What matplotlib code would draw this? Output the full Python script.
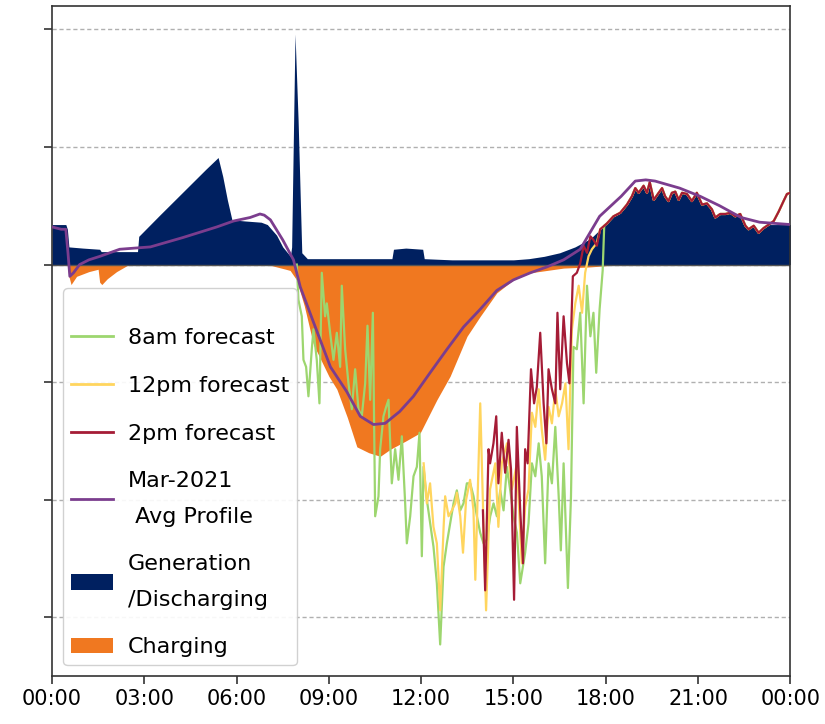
import matplotlib
matplotlib.use("Agg")
import matplotlib.pyplot as plt
from matplotlib import font_manager
from matplotlib.lines import Line2D
from matplotlib.patches import Patch

# hours of day -> value (arbitrary units, one grid step = 1)
gen_t = [0, 0.45, 0.5, 0.55, 1.0, 1.55, 1.6, 2.0, 2.5, 2.78, 2.82, 3.5, 4.0, 4.5, 5.0, 5.4, 5.55, 5.7, 5.85, 6.3,
         6.8, 7.0, 7.3, 7.5, 7.75, 7.79, 7.9, 8.0, 8.12, 8.3, 9.0, 10.0, 11.05, 11.1, 11.5, 12.05, 12.1, 13.0, 14.0, 15.0,
         15.5, 16.0, 16.5, 17.0, 17.5, 17.82,
         18.04, 18.25, 18.47, 18.69, 18.85, 18.96, 19.07, 19.23, 19.34, 19.43, 19.56, 19.72, 19.83, 19.93, 20.04, 20.15,
         20.26, 20.37, 20.48, 20.64, 20.8, 20.96, 21.13, 21.29, 21.45, 21.56, 21.72, 21.89, 22.05, 22.21, 22.37, 22.54,
         22.64, 22.81, 22.97, 23.13, 23.3, 23.5, 24.0]
gen_v = [0.34, 0.34, 0.3, 0.15, 0.14, 0.13, 0.11, 0.11, 0.11, 0.11, 0.24, 0.42, 0.55, 0.68, 0.81, 0.91, 0.75, 0.55, 0.38, 0.37,
         0.36, 0.34, 0.25, 0.15, 0.07, 0.15, 1.96, 1.23, 0.1, 0.05, 0.05, 0.05, 0.05, 0.13, 0.14, 0.13, 0.05, 0.04, 0.04, 0.04,
         0.05, 0.07, 0.1, 0.15, 0.22, 0.30,
         0.35, 0.41, 0.44, 0.51, 0.58, 0.65, 0.61, 0.67, 0.61, 0.70, 0.55, 0.61, 0.65, 0.58, 0.54, 0.61,
         0.62, 0.55, 0.61, 0.60, 0.54, 0.61, 0.51, 0.52, 0.47, 0.40, 0.43, 0.43, 0.44, 0.41, 0.43, 0.33,
         0.30, 0.33, 0.27, 0.31, 0.34, 0.34, 0.34]

chg_t = [0, 0.5, 0.55, 0.62, 0.8, 1.2, 1.5, 1.55, 1.62, 1.8, 2.1, 2.5, 7.0, 7.3, 7.6, 7.74, 7.95, 8.2, 8.5, 9.0,
         9.26, 9.6, 9.91, 10.3, 10.67, 11.0, 11.5, 11.97, 12.51, 12.94, 13.49, 13.92, 14.46, 15.0, 15.55, 16.63, 17.5,
         18.5, 24.0]
chg_v = [0, 0, -0.1, -0.17, -0.1, -0.06, -0.04, -0.15, -0.17, -0.12, -0.06, 0, 0, -0.02, -0.04, -0.05, -0.13, -0.35, -0.68,
         -0.95, -1.06, -1.3, -1.55, -1.6, -1.63, -1.57, -1.5, -1.43, -1.15, -0.95, -0.61, -0.44, -0.24, -0.13, -0.07,
         -0.03, -0.02, 0, 0]

avg_t = [0, 0.3, 0.45, 0.52, 0.58, 0.7, 0.9, 1.2, 1.56, 2.2, 3.2, 4.26, 5.36, 5.9, 6.44, 6.76, 6.9, 7.1, 7.5, 7.85,
         8.07, 8.5, 9.05, 9.58, 10.02, 10.45, 10.83, 11.3, 11.75, 12.29, 12.84, 13.38, 13.92, 14.46, 15.0, 15.55, 16.09,
         16.63, 17.17, 17.8, 18.5, 18.96, 19.3, 19.6, 20.4, 21.07, 21.7, 22.4, 23.0, 24.0]
avg_v = [0.32, 0.3, 0.3, 0.1, -0.1, -0.07, 0.0, 0.04, 0.07, 0.13, 0.15, 0.23, 0.32, 0.37, 0.40, 0.43, 0.42, 0.38, 0.21, 0.04,
         -0.19, -0.49, -0.87, -1.08, -1.29, -1.36, -1.35, -1.25, -1.12, -0.92, -0.72, -0.53, -0.38, -0.22, -0.13, -0.07,
         -0.02, 0.04, 0.13, 0.41, 0.58, 0.71, 0.72, 0.71, 0.65, 0.58, 0.5, 0.4, 0.36, 0.34]

# forecasts share the evening part
eve_t = [18.04, 18.25, 18.47, 18.69, 18.85, 18.96, 19.07, 19.23, 19.34, 19.43, 19.56, 19.72, 19.83, 19.93, 20.04, 20.15,
         20.26, 20.37, 20.48, 20.64, 20.8, 20.96, 21.13, 21.29, 21.45, 21.56, 21.72, 21.89, 22.05, 22.21, 22.37, 22.54,
         22.64, 22.81, 22.97, 23.13, 23.3, 23.46, 23.62, 23.78, 23.89, 24.0]
eve_v = [0.35, 0.41, 0.44, 0.51, 0.58, 0.65, 0.61, 0.67, 0.61, 0.70, 0.55, 0.61, 0.65, 0.58, 0.54, 0.61,
         0.62, 0.55, 0.61, 0.60, 0.54, 0.61, 0.51, 0.52, 0.47, 0.40, 0.43, 0.43, 0.44, 0.41, 0.43, 0.33,
         0.30, 0.33, 0.27, 0.31, 0.34, 0.37, 0.45, 0.54, 0.60, 0.61]

f8_t = [7.957, 8.011, 8.12, 8.174, 8.26, 8.336, 8.445, 8.499, 8.607, 8.694,
        8.77, 8.878, 8.933, 9.041, 9.15, 9.258, 9.366, 9.42, 9.529, 9.637,
        9.746, 9.854, 9.962, 10.07, 10.18, 10.255, 10.342, 10.43, 10.505, 10.613,
        10.667, 10.775, 10.862, 10.938, 11.046, 11.155, 11.263, 11.372, 11.48, 11.534,
        11.643, 11.751, 11.86, 11.946, 12.022, 12.076, 12.185, 12.293, 12.401, 12.51,
        12.618, 12.727, 12.835, 12.943, 13.052, 13.16, 13.269, 13.377, 13.485, 13.594,
        13.702, 13.811, 13.919, 14.027, 14.136, 14.244, 14.353, 14.461, 14.57, 14.678,
        14.786, 14.895, 15.003, 15.112, 15.22, 15.38, 15.49, 15.6, 15.71, 15.82,
        15.92, 16.03, 16.14, 16.25, 16.36, 16.47, 16.54, 16.63, 16.77, 16.87,
        16.95, 17.06, 17.17, 17.28, 17.39, 17.5, 17.6, 17.69, 17.8, 17.9, 17.95]
f8_v = [0.0, -0.30, -0.44, -0.81, -0.87, -1.12, -0.72, -0.55, -0.81, -1.18,
        -0.07, -0.44, -0.33, -0.58, -0.81, -0.58, -0.87, -0.18, -0.72, -1.01,
        -1.23, -0.89, -1.23, -1.29, -1.01, -0.52, -1.15, -0.41, -2.14, -1.97,
        -1.57, -1.29, -1.21, -1.15, -1.86, -1.57, -1.83, -1.46, -2.03, -2.37,
        -2.14, -1.80, -1.72, -1.43, -2.48, -1.72, -2.0, -2.2, -2.4, -2.71,
        -3.23, -2.57, -2.37, -2.2, -2.03, -1.92, -2.09, -2.03, -1.86, -1.86,
        -1.97, -2.14, -2.28, -2.37, -2.34, -2.14, -2.03, -2.14, -1.92, -2.09,
        -1.72, -1.92, -2.14, -2.28, -2.71, -2.45, -2.2, -1.69, -1.8, -1.52,
        -1.8, -2.54, -1.69, -1.86, -1.38, -1.97, -2.43, -1.69, -2.75, -1.97,
        -0.70, -0.72, -0.41, -1.18, -0.18, -0.61, -0.41, -0.92, -0.38, -0.05, 0.33]

f12_t = [12.08, 12.185, 12.29, 12.4, 12.51, 12.62, 12.73, 12.78, 12.89, 13.0,
         13.11, 13.16, 13.27, 13.36, 13.46, 13.59, 13.7, 13.76, 13.92, 14.03,
         14.11, 14.24, 14.41, 14.51, 14.62, 14.79, 14.95, 15.11, 15.27, 15.38,
         15.49, 15.6, 15.71, 15.82, 15.92, 16.03, 16.14, 16.25, 16.36, 16.47,
         16.58, 16.69, 16.79, 16.9, 17.01, 17.12, 17.23, 17.33, 17.44, 17.55, 17.7, 17.82]
f12_v = [-1.69, -2.03, -1.86, -2.23, -2.37, -2.94, -2.23, -1.97, -2.14, -2.09,
         -2.03, -1.94, -2.14, -2.45, -2.0, -1.83, -2.09, -2.68, -1.18, -2.25,
         -2.94, -1.91, -1.69, -2.23, -1.69, -1.52, -1.91, -1.69, -2.54, -2.06,
         -1.91, -1.26, -1.38, -1.06, -1.4, -1.66, -1.21, -1.35, -1.06, -1.29,
         -1.18, -1.01, -1.57, -0.55, -0.33, -0.18, -0.41, -0.07, 0.07, 0.13, 0.18, 0.30]

f2_t = [14.007, 14.08, 14.19, 14.24, 14.35, 14.44, 14.51, 14.62, 14.73, 14.84,
        14.92, 15.02, 15.11, 15.22, 15.31, 15.38, 15.46, 15.57, 15.67, 15.76,
        15.87, 15.98, 16.07, 16.14, 16.25, 16.36, 16.43, 16.52, 16.63, 16.74,
        16.82, 16.93, 17.06, 17.17, 17.28, 17.39, 17.5, 17.6, 17.71, 17.82]
f2_v = [-2.09, -2.77, -1.57, -1.69, -1.52, -1.29, -1.86, -1.43, -1.77, -1.49,
        -1.74, -2.85, -1.38, -2.09, -2.54, -1.57, -1.69, -0.89, -1.18, -1.04,
        -0.58, -1.18, -1.52, -0.89, -1.06, -1.18, -0.41, -1.06, -0.44, -0.84,
        -1.01, -0.10, -0.07, 0.01, 0.16, 0.10, 0.24, 0.21, 0.16, 0.30]

xtick_hours = [0, 3, 6, 9, 12, 15, 18, 21, 24]
xtick_labels = ['00:00', '03:00', '06:00', '09:00', '12:00', '15:00', '18:00', '21:00', '00:00']

names = {f.name for f in font_manager.fontManager.ttflist}
if 'DejaVu Sans Condensed' in names:
    plt.rcParams['font.family'] = ['DejaVu Sans Condensed', 'DejaVu Sans']
    fs_tick, fs_leg = 17, 18
else:
    plt.rcParams['font.family'] = ['DejaVu Sans']
    fs_tick, fs_leg = 15, 16

fig = plt.figure(figsize=(8.25, 7.24), dpi=100)
ax = fig.add_axes([0.063, 0.066, 0.895, 0.926])

c_gen = '#002060'
c_chg = '#F07820'
c_8 = '#9DD66F'
c_12 = '#FFD55E'
c_2 = '#A51C36'
c_avg = '#7B3D8E'

ax.fill_between(gen_t, 0, gen_v, color=c_gen, lw=0, zorder=2)
ax.fill_between(chg_t, 0, chg_v, color=c_chg, lw=0, zorder=2)
ax.axhline(0, color='#555555', lw=1, zorder=2.5)

ax.plot(f8_t + eve_t, f8_v + eve_v, color=c_8, lw=1.6, zorder=3)
ax.plot(f12_t + eve_t, f12_v + eve_v, color=c_12, lw=1.6, zorder=3.1)
ax.plot(f2_t + eve_t, f2_v + eve_v, color=c_2, lw=1.6, zorder=3.2)
ax.plot(avg_t, avg_v, color=c_avg, lw=2, zorder=3.3)

ax.set_xlim(0, 24)
ax.set_ylim(-3.5, 2.2)
ax.set_xticks(xtick_hours)
ax.set_xticklabels(xtick_labels, fontsize=fs_tick)
ax.set_yticks([-3, -2, -1, 0, 1, 2])
ax.set_yticklabels([])
ax.tick_params(axis='both', length=6, width=1.2, color='#333333')
ax.yaxis.grid(True, color='#b0b0b0', lw=1, dashes=(3, 2))
ax.set_axisbelow(True)
for s in ax.spines.values():
    s.set_color('#333333')
    s.set_linewidth(1.2)

handles = [
    Line2D([], [], color=c_8, lw=2),
    Line2D([], [], color=c_12, lw=2),
    Line2D([], [], color=c_2, lw=2),
    Line2D([], [], color=c_avg, lw=2),
    Patch(facecolor=c_gen),
    Patch(facecolor=c_chg),
]
labels = ['8am forecast', '12pm forecast', '2pm forecast', 'Mar-2021\n Avg Profile',
          'Generation\n/Discharging', 'Charging']
leg = ax.legend(handles, labels, loc='lower left', fontsize=fs_leg, handlelength=1.9,
                handletextpad=0.65, labelspacing=1.25, borderpad=0.35, borderaxespad=0.5,
                framealpha=0.9, title=' ', title_fontsize=3)
for t in leg.get_texts():
    t.set_linespacing(1.95)

fig.savefig('out.png', dpi=100)
